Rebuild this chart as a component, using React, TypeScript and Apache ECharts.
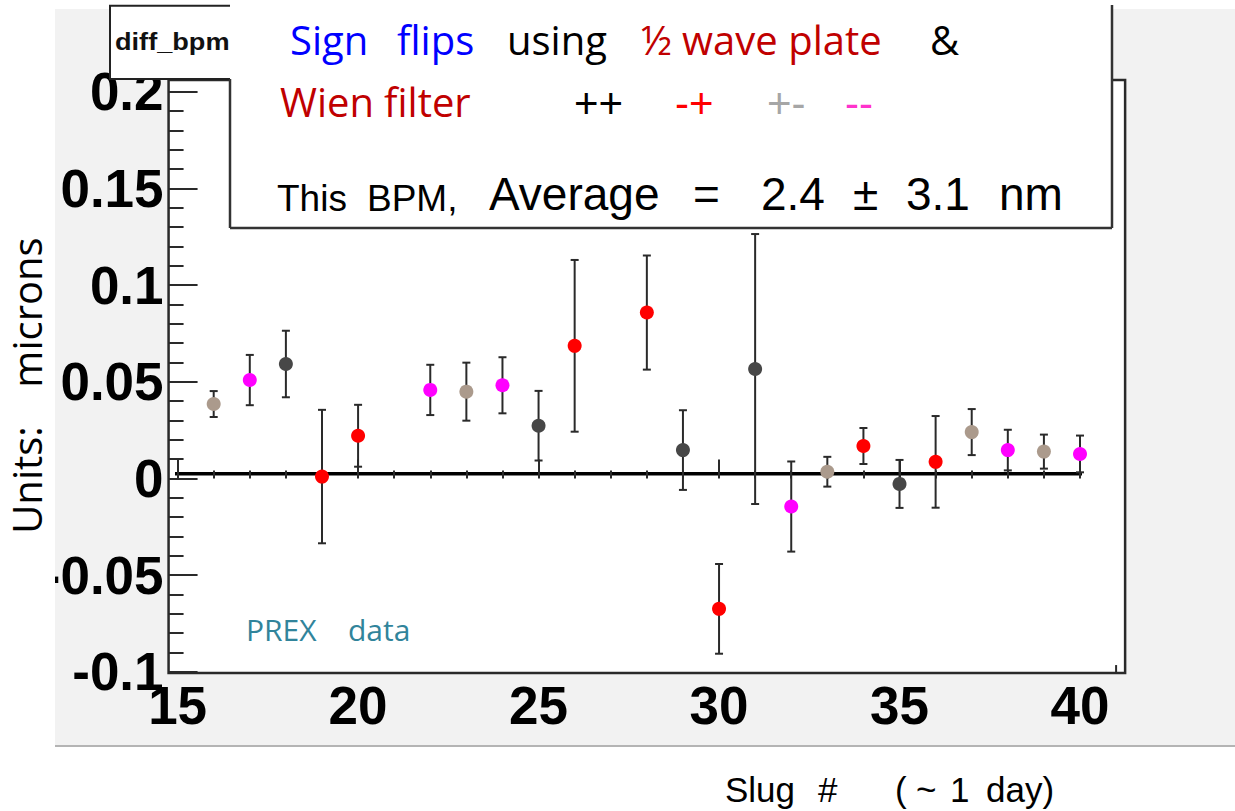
import React, { useEffect, useRef } from "react";
import * as echarts from "echarts";

// ---------- data ----------
const slugs = [16, 17, 18, 19, 20, 22, 23, 24, 25, 26, 28, 29, 30, 31, 32, 33, 34, 35, 36, 37, 38, 39, 40];
const values = [0.0385, 0.0509, 0.0592, 0.001, 0.0221, 0.0458, 0.0449, 0.0482, 0.0273, 0.0686, 0.0858, 0.0147, -0.0674, 0.0566, -0.0145, 0.0035, 0.0168, -0.0028, 0.0086, 0.024, 0.0147, 0.0139, 0.0127];
const errors = [0.0067, 0.013, 0.0172, 0.0345, 0.016, 0.013, 0.015, 0.0145, 0.018, 0.0444, 0.0295, 0.0206, 0.0232, 0.0698, 0.0233, 0.0077, 0.0093, 0.0124, 0.0237, 0.0119, 0.0105, 0.0088, 0.0095];
const states = ["+-", "--", "++", "-+", "-+", "--", "+-", "--", "++", "-+", "-+", "++", "-+", "++", "--", "+-", "-+", "++", "-+", "+-", "--", "+-", "--"];
const stateColors: Record<string, string> = { "++": "#474747", "-+": "#ff0000", "+-": "#ab9a8c", "--": "#ff00ff" };

const xTicks = [15, 20, 25, 30, 35, 40];
const yTicks = [-0.1, -0.05, 0, 0.05, 0.1, 0.15, 0.2];
const average = 0.0024;
const averageSpan = [14.88, 41.06];
const frameX = [14.75, 41.25];
const frameY = [-0.1006, 0.206];

// ---------- layout ----------
const GRID = { left: 177.6, top: 91.7, width: 902.4, height: 580.2 };
const X0 = xTicks[0], X1 = xTicks[xTicks.length - 1];
const Y0 = yTicks[0], Y1 = yTicks[yTicks.length - 1];
const px = (x: number) => GRID.left + ((x - X0) / (X1 - X0)) * GRID.width;
const py = (y: number) => GRID.top + ((Y1 - y) / (Y1 - Y0)) * GRID.height;

const OPEN = "'Open Sans'";
const LIB = "'Liberation Sans'";

function T(text: string, x: number, baseline: number, size: number, family: string, color: string, weight = "normal", extra: any = {}) {
  const k = family === OPEN ? 0.388 : 0.347;
  return {
    type: "text",
    x,
    y: baseline - k * size,
    z: 102,
    style: {
      text,
      fill: color,
      font: `${weight} ${size}px ${family}`,
      align: "left",
      verticalAlign: "middle",
      textAlign: "left",
      textVerticalAlign: "middle",
    },
    ...extra,
  };
}

export default function App() {
  const ref = useRef<HTMLDivElement>(null);
  useEffect(() => {
    if (!ref.current) return;
    const chart = echarts.init(ref.current, undefined, { renderer: "svg" });
    const fx0 = px(frameX[0]), fx1 = px(frameX[1]);
    const fy0 = py(frameY[1]), fy1 = py(frameY[0]);
    const tickStyle = { color: "#2a2a2a", width: 2 };
    const border = { stroke: "#333", lineWidth: 2.5 };

    const option: any = {
      animation: false,
      grid: { ...GRID, containLabel: false },
      xAxis: {
        type: "value",
        min: X0,
        max: X1,
        interval: 5,
        offset: fy1 - py(Y0),
        axisLine: { show: false },
        axisTick: { show: true, inside: true, length: 19, lineStyle: tickStyle },
        minorTick: { show: true, splitNumber: 5, length: 8, lineStyle: tickStyle },
        splitLine: { show: false },
        minorSplitLine: { show: false },
        axisLabel: {
          fontFamily: "Liberation Sans",
          fontWeight: "bold",
          fontSize: 53,
          color: "#000",
          margin: 32,
          verticalAlign: "middle",
        },
        z: 5,
      },
      yAxis: {
        type: "value",
        min: Y0,
        max: Y1,
        interval: 0.05,
        offset: GRID.left - fx0,
        axisLine: { show: false },
        axisTick: { show: true, inside: true, length: 29, lineStyle: tickStyle },
        minorTick: { show: true, splitNumber: 5, length: 15, lineStyle: tickStyle },
        splitLine: { show: false },
        minorSplitLine: { show: false },
        axisLabel: {
          fontFamily: "Liberation Sans",
          fontWeight: "bold",
          fontSize: 53,
          color: "#000",
          margin: 5,
          padding: [6, 0, 0, 0],
          formatter: (v: number) => String(parseFloat(v.toFixed(3))),
        },
        z: 5,
      },
      series: [
        {
          type: "line",
          data: averageSpan.map((x) => [x, average]),
          symbol: "none",
          clip: false,
          silent: true,
          lineStyle: { color: "#000", width: 3.5 },
          z: 3,
        },
        {
          type: "custom",
          clip: false,
          z: 4,
          encode: { x: 0, y: 1 },
          data: slugs.map((s, i) => [s, values[i], errors[i]]),
          renderItem: (params: any, api: any) => {
            const x = api.value(0), y = api.value(1), e = api.value(2);
            const t = api.coord([x, y + e]);
            const b = api.coord([x, y - e]);
            const cap = 4;
            const style = { stroke: "#2a2a2a", lineWidth: 2 };
            return {
              type: "group",
              children: [
                { type: "line", shape: { x1: t[0], y1: t[1], x2: b[0], y2: b[1] }, style },
                { type: "line", shape: { x1: t[0] - cap, y1: t[1], x2: t[0] + cap, y2: t[1] }, style },
                { type: "line", shape: { x1: b[0] - cap, y1: b[1], x2: b[0] + cap, y2: b[1] }, style },
              ],
            };
          },
        },
        {
          type: "scatter",
          symbol: "circle",
          symbolSize: 14,
          z: 6,
          itemStyle: { opacity: 1 },
          data: slugs.map((s, i) => ({ value: [s, values[i]], itemStyle: { color: stateColors[states[i]], opacity: 1 } })),
        },
      ],
      graphic: [
        // canvas panel
        { type: "rect", z: -20, shape: { x: 55, y: 9, width: 1180, height: 736 }, style: { fill: "#f2f2f2" } },
        { type: "rect", z: -19, shape: { x: 55, y: 745, width: 1180, height: 2 }, style: { fill: "#b4b4b4" } },
        // plot frame
        { type: "rect", z: -10, shape: { x: fx0, y: fy0, width: fx1 - fx0, height: fy1 - fy0 }, style: { fill: "#fff", stroke: "#2a2a2a", lineWidth: 2.5 } },
        { type: "line", z: 5, shape: { x1: px(41), y1: fy1, x2: px(41), y2: fy1 - 8 }, style: { stroke: "#2a2a2a", lineWidth: 2 } },
        // clip of the label beyond the panel
        { type: "rect", z: 50, shape: { x: 0, y: 555, width: 55, height: 45 }, style: { fill: "#fff" } },
        // title box
        { type: "rect", z: 98, shape: { x: 110, y: 5.7, width: 125, height: 73.3 }, style: { fill: "#fff", stroke: "#222", lineWidth: 2 } },
        { ...T("diff_bpm", 115, 50, 23, LIB, "#111", "bold", { z: 99, scaleX: 1.18 }) },
        // overlay box
        { type: "rect", z: 100, shape: { x: 230, y: 0, width: 882, height: 228 }, style: { fill: "#fff" } },
        { type: "line", z: 101, shape: { x1: 230, y1: 79, x2: 230, y2: 228 }, style: border },
        { type: "line", z: 101, shape: { x1: 230, y1: 228, x2: 1112, y2: 228 }, style: border },
        { type: "line", z: 101, shape: { x1: 1112, y1: 5, x2: 1112, y2: 228 }, style: border },
        T("Sign", 290, 55, 40, OPEN, "#0000ff"),
        T("flips", 397, 55, 40, OPEN, "#0000ff"),
        T("using", 507, 55, 40, OPEN, "#000"),
        T("½ wave plate", 641, 55, 40, OPEN, "#c00000"),
        T("&", 930, 55, 40, OPEN, "#000"),
        T("Wien", 280, 117, 40, OPEN, "#c00000"),
        T("filter", 384, 117, 40, OPEN, "#c00000"),
        T("++", 574, 118, 42, LIB, "#000"),
        T("-+", 675, 118, 42, LIB, "#ff0000"),
        T("+-", 767, 118, 42, LIB, "#a6a6a6"),
        T("--", 845, 118, 42, LIB, "#ff33cc"),
        T("This", 277, 211, 37, LIB, "#000"),
        T("BPM,", 367, 211, 37, LIB, "#000"),
        T("Average", 489, 210, 46, LIB, "#000"),
        T("=", 693, 210, 46, LIB, "#000"),
        T("2.4", 761, 210, 46, LIB, "#000"),
        T("±", 853, 210, 46, LIB, "#000"),
        T("3.1", 906, 210, 46, LIB, "#000"),
        T("nm", 999, 210, 46, LIB, "#000"),
        // annotations
        T("PREX", 246, 641, 30, OPEN, "#31849b"),
        T("data", 348, 641, 30, OPEN, "#31849b"),
        {
          type: "text", z: 102, x: 26, y: 480, rotation: Math.PI / 2,
          style: { text: "Units:", fill: "#000", font: `normal 40px ${OPEN}`, align: "center", verticalAlign: "middle", textAlign: "center", textVerticalAlign: "middle" },
        },
        {
          type: "text", z: 102, x: 26, y: 312.5, rotation: Math.PI / 2,
          style: { text: "microns", fill: "#000", font: `normal 40px ${OPEN}`, align: "center", verticalAlign: "middle", textAlign: "center", textVerticalAlign: "middle" },
        },
        T("Slug", 725, 801.5, 35, LIB, "#000"),
        T("#", 818, 801.5, 35, LIB, "#000"),
        T("(", 895, 801.5, 35, LIB, "#000"),
        T("~", 916, 801.5, 35, LIB, "#000"),
        T("1", 950, 801.5, 35, LIB, "#000"),
        T("day)", 986, 801.5, 35, LIB, "#000"),
      ],
    };
    chart.setOption(option);
    return () => chart.dispose();
  }, []);
  return <div ref={ref} style={{ position: "absolute", left: 0, top: 0, width: "1235px", height: "811px" }} />;
}
